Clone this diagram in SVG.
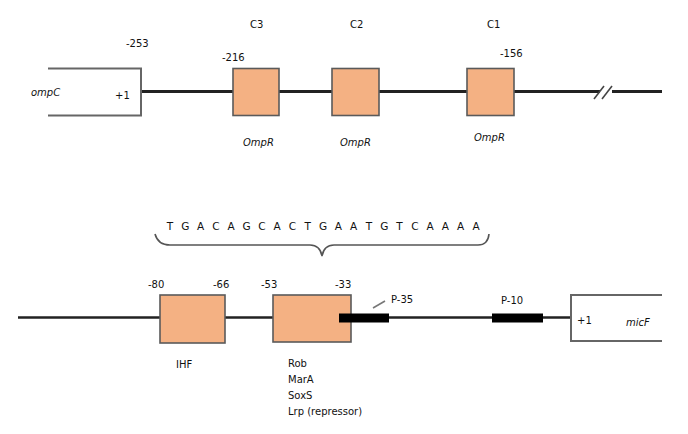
<svg xmlns="http://www.w3.org/2000/svg" width="688" height="434" viewBox="0 0 688 434">
<style>
text{font-family:"DejaVu Sans","Liberation Sans",sans-serif;font-size:10px;fill:#111}
.it{font-style:italic}
.box{fill:#F4B183;stroke:#5a5a5a;stroke-width:1.6}
.dna{stroke:#222;stroke-width:3;fill:none}
.dna2{stroke:#222;stroke-width:2.4;fill:none}
.gene{fill:#fff;stroke:#666;stroke-width:2}
.prom{stroke:#000;stroke-width:9;fill:none}
.seq{font-size:10.5px}
</style>
<g id="connectors">
<line class="dna" x1="141" y1="91.5" x2="600" y2="91.5"/>
<line class="dna" x1="612" y1="91.5" x2="662" y2="91.5"/>
<line x1="594" y1="99" x2="604" y2="86" stroke="#444" stroke-width="1.6"/>
<line x1="602" y1="99" x2="612" y2="86" stroke="#444" stroke-width="1.6"/>
<line class="dna2" x1="18" y1="317.5" x2="571" y2="317.5"/>
<path d="M155,234 Q158,245 170,245 L310,245 Q320,245 322,256 Q324,245 334,245 L478,245 Q488,245 489,234" fill="none" stroke="#555" stroke-width="1.6"/>
<line x1="373" y1="308" x2="385" y2="301" stroke="#777" stroke-width="1.6"/>
</g>
<g id="ompC">
<path class="gene" d="M48,68.5 L141,68.5 L141,115.5 L48,115.5"/>
<text class="it" x="31" y="96">ompC</text>
<text x="115" y="99">+1</text>
<text x="126" y="47">-253</text>
</g>
<g id="C3">
<rect class="box" x="233" y="68.5" width="46" height="47"/>
<text x="250" y="28">C3</text>
<text x="222" y="61">-216</text>
<text class="it" x="243" y="146">OmpR</text>
</g>
<g id="C2">
<rect class="box" x="332" y="68.5" width="47" height="47"/>
<text x="350" y="28">C2</text>
<text class="it" x="340" y="146">OmpR</text>
</g>
<g id="C1">
<rect class="box" x="467" y="68.5" width="47" height="47"/>
<text x="487" y="28">C1</text>
<text x="500" y="57">-156</text>
<text class="it" x="474" y="141">OmpR</text>
</g>
<g id="sequence">
<text class="seq" text-anchor="middle" y="230" x="170 185.3 200.6 215.9 231.2 246.5 261.8 277.1 292.4 307.7 323 338.3 353.6 368.9 384.2 399.5 414.8 430.1 445.4 460.7 476">TGACAGCACTGAATGTCAAAA</text>
</g>
<g id="IHF">
<rect class="box" x="160" y="295" width="65" height="48"/>
<text x="148" y="288">-80</text>
<text x="213" y="288">-66</text>
<text x="176" y="368">IHF</text>
</g>
<g id="Rob">
<rect class="box" x="273" y="295" width="78" height="47"/>
<text x="261" y="288">-53</text>
<text x="335" y="288">-33</text>
<text x="288" y="367">Rob</text>
<text x="288" y="383">MarA</text>
<text x="288" y="399">SoxS</text>
<text x="288" y="415">Lrp (repressor)</text>
</g>
<g id="P-35">
<line class="prom" x1="339" y1="318" x2="389" y2="318"/>
<text x="391" y="303">P-35</text>
</g>
<g id="P-10">
<line class="prom" x1="492" y1="318" x2="543" y2="318"/>
<text x="501" y="304">P-10</text>
</g>
<g id="micF">
<path class="gene" d="M662,295 L571,295 L571,341 L662,341"/>
<text x="577" y="324">+1</text>
<text class="it" x="626" y="326">micF</text>
</g>
</svg>
